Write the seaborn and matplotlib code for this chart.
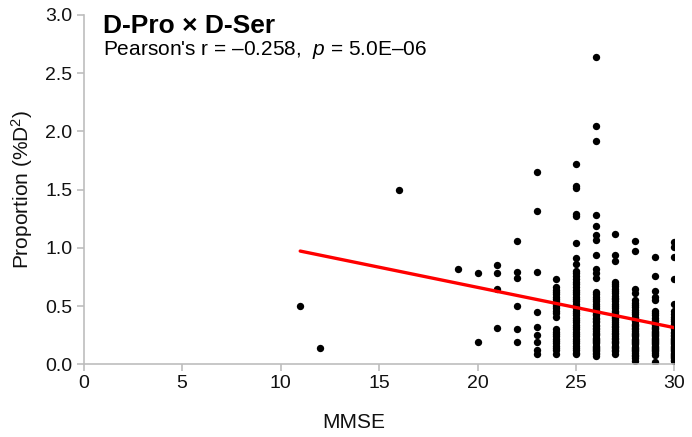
import matplotlib
matplotlib.use("Agg")
import matplotlib.pyplot as plt
import seaborn as sns
import pandas as pd

# MMSE score levels and the D-Pro x D-Ser proportions observed at each level
# (dense columns include overlapping points, estimated from the stacks)
mmse_levels = [11, 12, 16, 19, 20, 21, 22, 23, 24, 25, 26, 27, 28, 29, 30]
prop_11 = [0.50]
prop_12 = [0.14]
prop_16 = [1.50]
prop_19 = [0.82]
prop_20 = [0.78, 0.19]
prop_21 = [0.85, 0.78, 0.65, 0.31]
prop_22 = [1.06, 0.79, 0.74, 0.50, 0.30, 0.19]
prop_23 = [1.65, 1.32, 0.79, 0.45, 0.32, 0.25, 0.19, 0.12, 0.09]
prop_24 = [0.73, 0.66, 0.64, 0.62, 0.60, 0.58, 0.56, 0.54, 0.52, 0.50, 0.48,
           0.46, 0.44, 0.41, 0.30, 0.28, 0.26, 0.24, 0.22, 0.20, 0.18, 0.16,
           0.14, 0.12, 0.09]
prop_25 = [1.72, 1.53, 1.51, 1.29, 1.27, 1.04, 0.91, 0.86, 0.80, 0.78, 0.76,
           0.73, 0.71, 0.69, 0.66, 0.64, 0.62, 0.60, 0.58, 0.56, 0.54, 0.52,
           0.50, 0.48, 0.46, 0.44, 0.42, 0.40, 0.38, 0.36, 0.34, 0.32, 0.30,
           0.28, 0.26, 0.24, 0.22, 0.20, 0.18, 0.16, 0.14, 0.12, 0.10, 0.09]
prop_26 = [2.64, 2.05, 1.92, 1.28, 1.19, 1.11, 1.07, 0.94, 0.82, 0.78, 0.74,
           0.62, 0.60, 0.58, 0.56, 0.54, 0.52, 0.50, 0.48, 0.47, 0.45, 0.43,
           0.42, 0.40, 0.39, 0.37, 0.36, 0.34, 0.33, 0.31, 0.30, 0.29, 0.27,
           0.26, 0.25, 0.23, 0.22, 0.21, 0.20, 0.19, 0.18, 0.16, 0.15, 0.14,
           0.13, 0.12, 0.11, 0.10, 0.09, 0.07]
prop_27 = [1.12, 0.94, 0.89, 0.71, 0.69, 0.67, 0.65, 0.63, 0.61, 0.59, 0.57,
           0.56, 0.54, 0.52, 0.50, 0.48, 0.46, 0.45, 0.43, 0.41, 0.40, 0.38,
           0.36, 0.35, 0.33, 0.32, 0.30, 0.29, 0.27, 0.26, 0.24, 0.23, 0.22,
           0.20, 0.19, 0.18, 0.16, 0.15, 0.14, 0.12, 0.11, 0.09]
prop_28 = [1.06, 0.97, 0.65, 0.61, 0.55, 0.53, 0.51, 0.49, 0.47, 0.45, 0.43,
           0.41, 0.40, 0.38, 0.37, 0.35, 0.34, 0.33, 0.31, 0.30, 0.29, 0.27,
           0.26, 0.25, 0.24, 0.22, 0.21, 0.20, 0.19, 0.18, 0.17, 0.15, 0.14,
           0.13, 0.12, 0.11, 0.10, 0.08, 0.07, 0.05, 0.03]
prop_29 = [0.92, 0.76, 0.63, 0.58, 0.55, 0.46, 0.44, 0.42, 0.40, 0.38, 0.37,
           0.35, 0.34, 0.32, 0.31, 0.30, 0.29, 0.28, 0.27, 0.26, 0.25, 0.24,
           0.23, 0.22, 0.21, 0.20, 0.19, 0.18, 0.17, 0.16, 0.15, 0.14, 0.13,
           0.12, 0.11, 0.10, 0.08, 0.02]
prop_30 = [1.05, 1.01, 0.92, 0.73, 0.52, 0.46, 0.43, 0.41, 0.39, 0.37, 0.35,
           0.33, 0.31, 0.30, 0.28, 0.27, 0.25, 0.24, 0.23, 0.22, 0.21, 0.20,
           0.19, 0.18, 0.17, 0.16, 0.15, 0.14, 0.13, 0.12, 0.11, 0.10, 0.09,
           0.08, 0.07, 0.06, 0.05, 0.04, 0.03]

groups = [prop_11, prop_12, prop_16, prop_19, prop_20, prop_21, prop_22,
          prop_23, prop_24, prop_25, prop_26, prop_27, prop_28, prop_29, prop_30]

x_ticks = [0, 5, 10, 15, 20, 25, 30]
y_ticks = [0.0, 0.5, 1.0, 1.5, 2.0, 2.5, 3.0]
title_text = "D-Pro × D-Ser"
stat_text = "Pearson's r = \u20130.258,  $\\it{p}$ = 5.0E\u201306"

rows = []
for lvl, vals in zip(mmse_levels, groups):
    for v in vals:
        rows.append((lvl, v))
df = pd.DataFrame(rows, columns=["MMSE", "Proportion"])

sns.set_theme(style="white")
plt.rcParams["font.family"] = ["Liberation Sans", "DejaVu Sans"]
plt.rcParams["mathtext.fontset"] = "custom"
plt.rcParams["mathtext.it"] = "Liberation Sans:italic"
plt.rcParams["mathtext.rm"] = "Liberation Sans"

fig = plt.figure(figsize=(6.92, 4.37), dpi=100)
ax = fig.add_axes([0.1207, 0.1664, 0.8540, 0.7993])

sns.regplot(data=df, x="MMSE", y="Proportion", ax=ax, ci=None,
            scatter_kws=dict(s=28, color="black", linewidths=0, alpha=1, zorder=2),
            line_kws=dict(color="#ff0000", lw=2.4, zorder=3))

ax.set_xlim(0, 30)
ax.set_ylim(0, 3.0)
ax.set_xticks(x_ticks)
ax.set_xticklabels([str(t) for t in x_ticks])
ax.set_yticks(y_ticks)
ax.set_yticklabels([f"{t:.1f}" for t in y_ticks])

for side in ["top", "right"]:
    ax.spines[side].set_visible(False)
for side in ["left", "bottom"]:
    ax.spines[side].set_color("#bdbdbd")
    ax.spines[side].set_linewidth(1.2)
ax.tick_params(axis="both", which="major", length=5, width=1.2, color="#bdbdbd",
               labelsize=14, labelcolor="#111111", direction="out",
               bottom=True, left=True, pad=3)
for lab in ax.get_xticklabels() + ax.get_yticklabels():
    lab.set_clip_on(False)

ax.set_xlabel("")
ax.set_ylabel("")
fig.text(354 / 692, 1 - 428 / 437, "MMSE", fontsize=15, color="#111111",
         ha="center", va="baseline")
fig.text(22 / 692, 1 - 189 / 437, "Proportion (%D$^{2}$)", fontsize=15,
         color="#111111", ha="center", va="center", rotation=90)

fig.text(103 / 692, 1 - 33 / 437, title_text, fontsize=19, fontweight="bold",
         ha="left", va="baseline", color="black")
fig.text(103 / 692, 1 - 55 / 437, stat_text, fontsize=15,
         ha="left", va="baseline", color="black")

fig.savefig("out.png", dpi=100)
